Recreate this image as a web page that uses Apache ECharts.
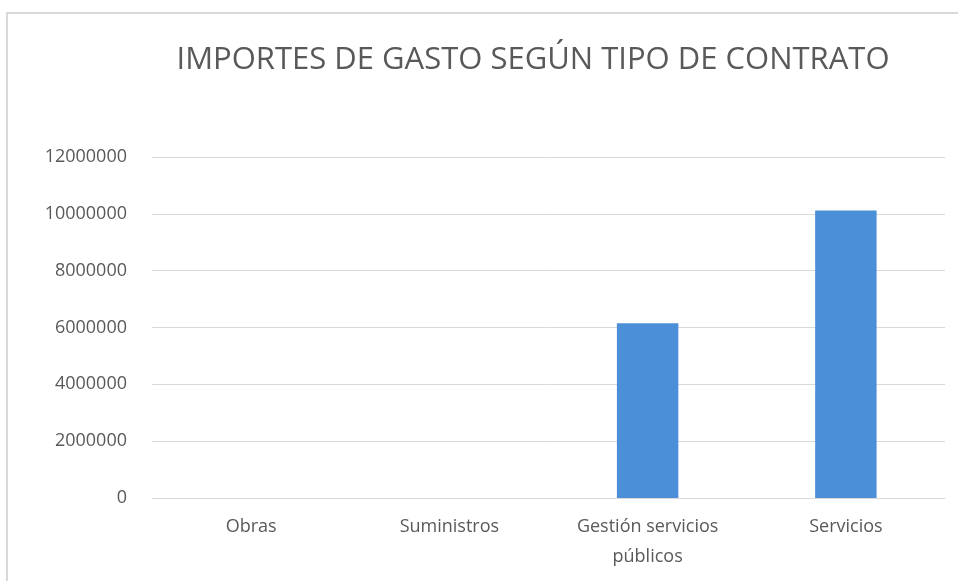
<!DOCTYPE html>
<html>
<head>
<meta charset="utf-8">
<script src="https://cdn.jsdelivr.net/npm/echarts@6/dist/echarts.min.js"></script>
<style>
    html, body { margin: 0; padding: 0; background: #ffffff; }
    #wrap { position: absolute; left: 6px; top: 12px; width: 960px; height: 580px; border: 2px solid #d9d9d9; }
    #chart { position: absolute; left: 0; top: 0; width: 958px; height: 581px; }
</style>
</head>
<body>
<div id="wrap"></div>
<div id="chart"></div>
<script>
var titleText = 'IMPORTES DE GASTO SEGÚN TIPO DE CONTRATO';
var categories = ['Obras', 'Suministros', 'Gestión servicios\npúblicos', 'Servicios'];
var importes = [0, 0, 6150000, 10120000]; // importe por tipo de contrato
var yMin = 0, yMax = 12000000, yStep = 2000000;

var myChart = echarts.init(document.getElementById('chart'));
var option = {
    animation: false,
    title: {
        text: titleText,
        left: 528,
        textAlign: 'center',
        top: 40,
        textStyle: {
            fontFamily: 'Open Sans',
            fontWeight: 'normal',
            fontSize: 31,
            color: '#595959'
        }
    },
    grid: {
        left: 152,
        right: 13,
        top: 157,
        bottom: 83
    },
    xAxis: {
        type: 'category',
        data: categories,
        axisLine: { lineStyle: { color: '#d9d9d9' } },
        axisTick: { show: false },
        axisLabel: {
            color: '#595959',
            fontFamily: 'Open Sans',
            fontSize: 18,
            lineHeight: 30,
            margin: 14
        }
    },
    yAxis: {
        type: 'value',
        min: yMin,
        max: yMax,
        interval: yStep,
        axisLine: { show: false },
        axisTick: { show: false },
        splitLine: { lineStyle: { color: '#d9d9d9' } },
        axisLabel: {
            color: '#595959',
            fontFamily: 'Open Sans',
            fontSize: 18,
            margin: 25,
            formatter: function (v) { return String(v); }
        }
    },
    series: [{
        name: 'Importe',
        type: 'bar',
        data: importes,
        barWidth: '31%',
        itemStyle: { color: '#4a8fd8' }
    }]
};
myChart.setOption(option);
</script>
</body>
</html>
